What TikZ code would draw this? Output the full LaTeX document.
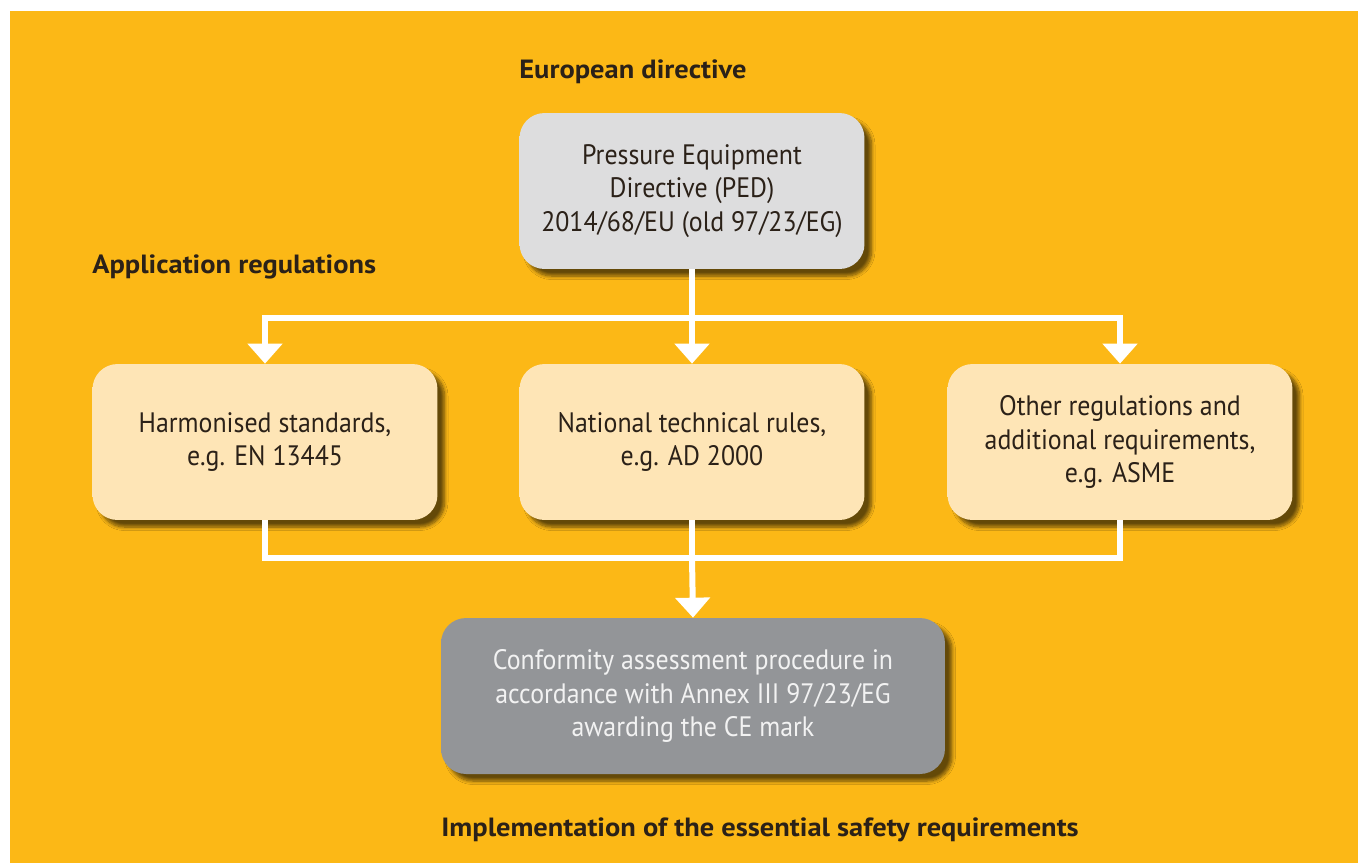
\documentclass[tikz,border=0pt]{standalone}
\usepackage{fontspec}
\setmainfont{PT Sans}[FakeStretch=0.92, BoldFeatures={FakeStretch=1.08}]
\usetikzlibrary{arrows.meta, shadows.blur}

\definecolor{bgorange}{RGB}{252,184,22}
\definecolor{inkdark}{RGB}{43,33,24}
\definecolor{pedgrey}{RGB}{221,221,222}
\definecolor{pedgreydark}{RGB}{85,85,88}
\definecolor{pedgreylight}{RGB}{238,238,239}
\definecolor{cream}{RGB}{254,229,182}
\definecolor{creamdark}{RGB}{100,75,38}
\definecolor{creamlight}{RGB}{255,242,216}
\definecolor{confgrey}{RGB}{147,149,152}
\definecolor{confgreydark}{RGB}{55,55,57}
\definecolor{confgreylight}{RGB}{185,186,189}

% bevelled fills: dark lower rim, light top rim
\pgfdeclareverticalshading{bevelped}{100bp}{color(0bp)=(pedgreydark); color(5bp)=(pedgrey!65!pedgreydark); color(10bp)=(pedgrey); color(93bp)=(pedgrey); color(100bp)=(pedgreylight)}
\pgfdeclareverticalshading{bevelcream}{100bp}{color(0bp)=(creamdark); color(5bp)=(cream!65!creamdark); color(10bp)=(cream); color(93bp)=(cream); color(100bp)=(creamlight)}
\pgfdeclareverticalshading{bevelconf}{100bp}{color(0bp)=(confgreydark); color(5bp)=(confgrey!65!confgreydark); color(10bp)=(confgrey); color(93bp)=(confgrey); color(100bp)=(confgreylight)}

\tikzset{
  box/.style={rounded corners=0.5cm, minimum width=6.9cm, minimum height=3.12cm,
    align=center, text=inkdark, font=\fontsize{16}{19}\selectfont,
    blur shadow={shadow xshift=4pt, shadow yshift=-4pt, shadow blur steps=8, shadow opacity=60}},
  pedbox/.style={box, shading=bevelped},
  rulebox/.style={box, shading=bevelcream},
  confbox/.style={box, shading=bevelconf, minimum width=10.08cm, text=white!95!black},
  heading/.style={anchor=base west, inner sep=0pt, text=inkdark, font=\fontsize{15}{18}\selectfont\bfseries},
  flow/.style={draw=white, line width=0.12cm},
  flowarrow/.style={flow, -{Triangle[width=0.68cm, length=0.4cm]}}
}

\begin{document}
\begin{tikzpicture}[x=0.02cm, y=-0.02cm]
\useasboundingbox (0,0) rectangle (1358,863);
\fill[bgorange] (10,11) rectangle (1358,863);

% directive on top
\node[pedbox] (ped) at (692,191) {Pressure Equipment\\Directive (PED)\\2014/68/EU (old 97/23/EG)};

% the three sets of rules
\node[rulebox] (harm) at (265,442) {Harmonised standards,\\e.g. EN 13445};
\node[rulebox] (nat) at (692,442) {National technical rules,\\e.g. AD 2000};
\node[rulebox] (other) at (1120,442) {Other regulations and\\additional requirements,\\e.g. ASME};

% procedure at the bottom
\node[confbox] (conf) at (693,696) {Conformity assessment procedure in\\accordance with Annex III 97/23/EG\\awarding the CE mark};

% headings
\node[heading] (hdir) at (519,78) {European directive};
\node[heading] (happ) at (92,273) {Application regulations};
\node[heading] (himp) at (441,836) {Implementation of the essential safety requirements};

% branching lines
\coordinate (topbar) at (692,318);
\coordinate (botbar) at (692,558);
\draw[flow] (harm.south) |- (botbar) -| (other.south);
\draw[flow] (nat.south) -- (botbar);
\draw[flowarrow] (botbar) -- (conf.north);
\draw[flowarrow] (ped.south) -- (nat.north);
\draw[flowarrow] (topbar) -| (harm.north);
\draw[flowarrow] (topbar) -| (other.north);
\end{tikzpicture}
\end{document}
